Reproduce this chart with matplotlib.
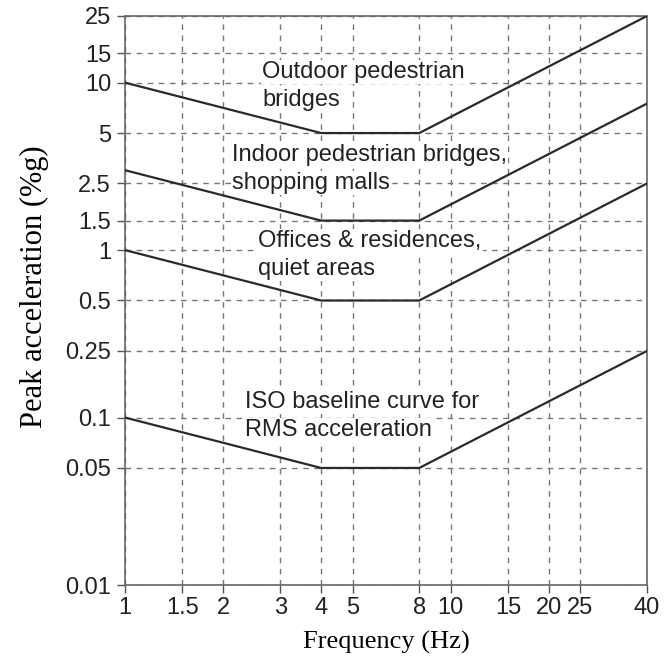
import matplotlib.pyplot as plt
from matplotlib.ticker import FixedLocator, NullLocator

# data
freq = [1, 4, 8, 40]
iso_base = [0.1, 0.05, 0.05, 0.25]
offices = [1, 0.5, 0.5, 2.5]
indoor = [3, 1.5, 1.5, 7.5]
outdoor = [10, 5, 5, 25]

xticks = [1, 1.5, 2, 3, 4, 5, 8, 10, 15, 20, 25, 40]
yticks = [0.01, 0.05, 0.1, 0.25, 0.5, 1, 1.5, 2.5, 5, 10, 15, 25]

curve_labels = [
    ["Outdoor pedestrian", "bridges"],
    ["Indoor pedestrian bridges,", "shopping malls"],
    ["Offices & residences,", "quiet areas"],
    ["ISO baseline curve for", "RMS acceleration"],
]

plt.rcParams['font.family'] = ['Liberation Sans', 'DejaVu Sans']

W, H = 667, 660
fig = plt.figure(figsize=(W/100, H/100), dpi=100)
ax = fig.add_axes([125/W, 1-585/H, (647-125)/W, (585-16)/H])
ax.set_xscale('log')
ax.set_yscale('log')
ax.set_xlim(1, 40)
ax.set_ylim(0.01, 25)

ax.xaxis.set_major_locator(FixedLocator(xticks))
ax.yaxis.set_major_locator(FixedLocator(yticks))
ax.xaxis.set_minor_locator(NullLocator())
ax.yaxis.set_minor_locator(NullLocator())
ax.set_xticklabels([f"{v:g}" for v in xticks])
ax.set_yticklabels([f"{v:g}" for v in yticks])
ax.tick_params(labelsize=17, length=6, width=1, color='#555555', labelcolor='#222222')
ax.tick_params(axis='y', pad=4)
ax.tick_params(axis='x', pad=3)

ax.grid(True, linestyle=(0, (4, 4)), color='#777777', linewidth=1)
for s in ax.spines.values():
    s.set_color('#666666')
    s.set_linewidth(1.2)

for series in [iso_base, offices, indoor, outdoor]:
    ax.plot(freq, series, color='#2a2a2a', linewidth=1.6, zorder=3)

# label placement in pixels (left x, first line y)
label_px = [(262, 72), (232, 155), (258, 241), (245, 402)]
line_gap = 28
for (px, py), lines in zip(label_px, curve_labels):
    for i, line in enumerate(lines):
        ax.text(px/W, 1-(py + i*line_gap)/H, line, transform=fig.transFigure,
                fontsize=17, color='#222222', ha='left', va='center', zorder=4,
                bbox=dict(facecolor='white', edgecolor='none', pad=1))

ax.set_xlabel("Frequency (Hz)", family=['Liberation Serif'], fontsize=19, labelpad=8)
ax.set_ylabel("Peak acceleration (%g)", family=['Liberation Serif'], fontsize=22, labelpad=10)
ax.yaxis.set_label_coords(-0.145, 0.525)

fig.savefig("out.png", dpi=100)
